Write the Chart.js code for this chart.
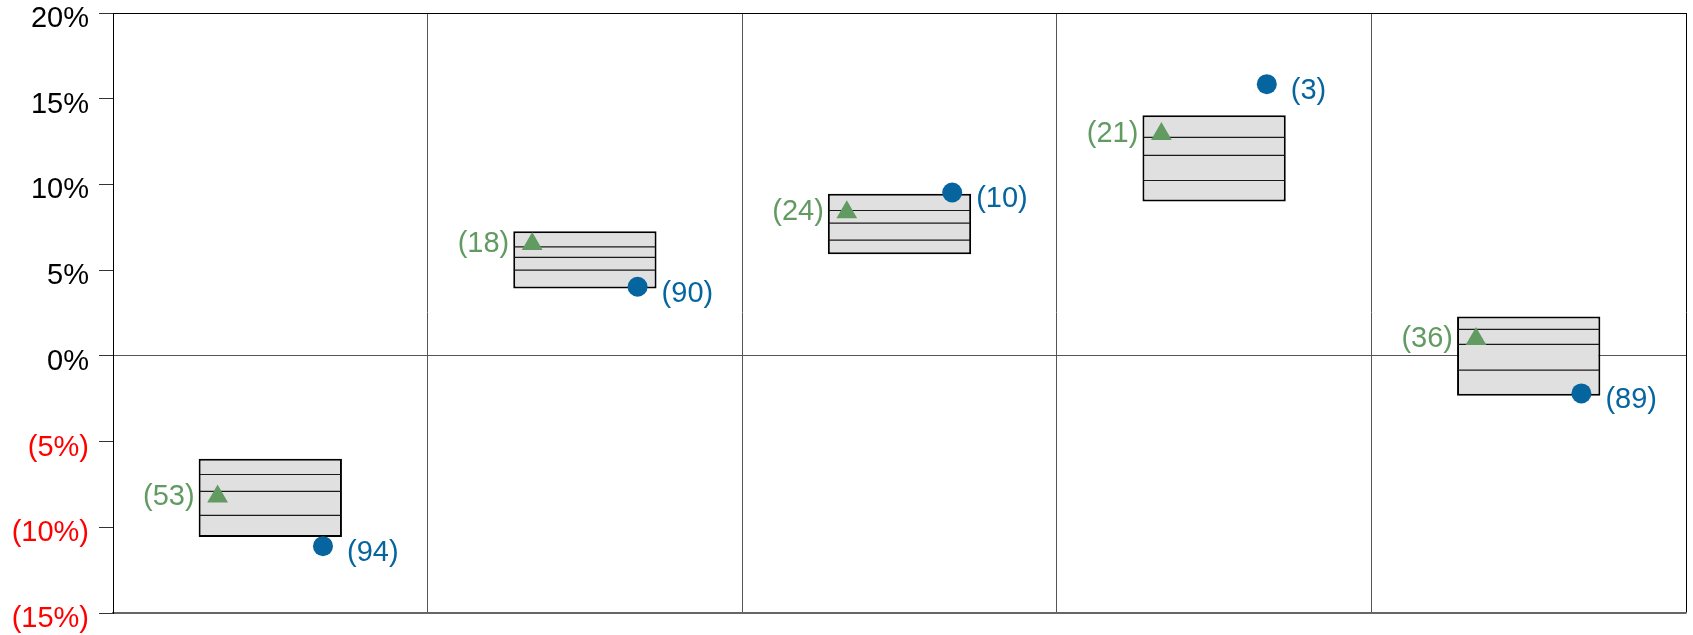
<!DOCTYPE html>
<html><head><meta charset="utf-8">
<script src="https://cdn.jsdelivr.net/npm/chart.js@4.4.1/dist/chart.umd.min.js"></script>
<style>html,body{margin:0;padding:0;background:#fff}#wrap{width:1693px;height:635px}</style>
</head><body><div id="wrap"><canvas id="c" width="1693" height="635"></canvas></div>
<script>
// ---- data (percent) ----
const categories = ['1', '2', '3', '4', '5'];
const boxMax = [-6.0, 7.27, 9.45, 14.04, 2.30];
const boxP75 = [-6.92, 6.36, 8.48, 12.74, 1.54];
const boxMed = [-7.91, 5.74, 7.74, 11.69, 0.665];
const boxP25 = [-9.31, 5.0, 6.75, 10.23, -0.83];
const boxMin = [-10.56, 3.93, 5.93, 9.01, -2.33];
const triValues = [-8.21, 6.52, 8.37, 12.94, 0.98];
const triLabels = ['(53)', '(18)', '(24)', '(21)', '(36)'];
const dotValues = [-11.1, 4.03, 9.53, 15.85, -2.19];
const dotLabels = ['(94)', '(90)', '(10)', '(3)', '(89)'];
const yTickValues = [-15, -10, -5, 0, 5, 10, 15, 20];

const GREEN = '#629b62';
const BLUE = '#06659f';
const FONT = '"Liberation Sans", Arial, sans-serif';
const POINT_SHIFT = 0.1675;

const innerLines = {
  id: 'innerLines',
  afterDatasetDraw(chart, args) {
    if (args.index !== 0) return;
    const ctx = chart.ctx, ys = chart.scales.y;
    const meta = chart.getDatasetMeta(0);
    ctx.save();
    ctx.strokeStyle = '#1a1a1a';
    ctx.lineWidth = 1.2;
    meta.data.forEach((bar, i) => {
      const w = bar.width / 2;
      [boxP75[i], boxMed[i], boxP25[i]].forEach(v => {
        const y = ys.getPixelForValue(v);
        ctx.beginPath();
        ctx.moveTo(bar.x - w + 1, y);
        ctx.lineTo(bar.x + w - 1, y);
        ctx.stroke();
      });
    });
    ctx.restore();
  }
};

const pointLabels = {
  id: 'pointLabels',
  afterDatasetsDraw(chart) {
    const ctx = chart.ctx;
    ctx.save();
    ctx.font = '29px ' + FONT;
    ctx.textBaseline = 'middle';
    ctx.fillStyle = GREEN;
    ctx.textAlign = 'right';
    chart.getDatasetMeta(1).data.forEach((p, i) => ctx.fillText(triLabels[i], p.x - 23, p.y + 0));
    ctx.fillStyle = BLUE;
    ctx.textAlign = 'left';
    chart.getDatasetMeta(2).data.forEach((p, i) => ctx.fillText(dotLabels[i], p.x + 24, p.y + 7));
    ctx.restore();
  }
};

new Chart(document.getElementById('c'), {
  type: 'bar',
  data: {
    datasets: [
      {
        type: 'bar',
        data: categories.map((c, i) => ({ x: i, y: [boxMin[i], boxMax[i]] })),
        backgroundColor: '#e0e0e0',
        borderColor: '#000',
        borderWidth: 2,
        borderSkipped: false,
        barPercentage: 0.4555,
        categoryPercentage: 1,
        order: 3
      },
      {
        type: 'scatter',
        data: categories.map((c, i) => ({ x: i - POINT_SHIFT, y: triValues[i] })),
        pointStyle: 'triangle',
        pointRadius: 12,
        backgroundColor: GREEN,
        borderWidth: 0,
        order: 1
      },
      {
        type: 'scatter',
        data: categories.map((c, i) => ({ x: i + POINT_SHIFT, y: dotValues[i] })),
        pointStyle: 'circle',
        pointRadius: 10,
        backgroundColor: BLUE,
        borderWidth: 0,
        order: 0
      }
    ]
  },
  options: {
    responsive: false,
    animation: false,
    layout: { autoPadding: false, padding: { left: 0, right: 7, top: 13, bottom: 22 } },
    plugins: { legend: { display: false }, tooltip: { enabled: false } },
    scales: {
      x: {
        type: 'linear',
        offset: false,
        min: -0.5,
        max: 4.5,
        afterBuildTicks: s => { s.ticks = [-0.5, 0.5, 1.5, 2.5, 3.5, 4.5].map(v => ({ value: v })); },
        afterFit: s => { s.paddingLeft = 0; s.paddingRight = 0; },
        ticks: { display: false },
        grid: {
          offset: false,
          drawTicks: false,
          lineWidth: 1,
          color: ctx => (ctx.tick && (ctx.tick.value === 4.5 || ctx.tick.value === -0.5)) ? '#000' : '#555'
        },
        border: { display: true, color: '#666', width: 1.5 }
      },
      y: {
        min: -15,
        max: 20,
        afterBuildTicks: s => { s.ticks = yTickValues.map(v => ({ value: v })); },
        afterFit: s => { s.width = 113; s.paddingTop = 0; s.paddingBottom = 0; },
        ticks: {
          padding: 10,
          labelOffset: 6,
          font: { family: FONT, size: 29, lineHeight: 0.9 },
          color: ctx => ctx.tick.value < 0 ? '#ff0000' : '#000',
          callback: v => v < 0 ? '(' + (-v) + '%)' : v + '%'
        },
        grid: {
          tickLength: 14,
          tickColor: '#333',
          lineWidth: 1,
          color: ctx => {
            const v = ctx.tick ? ctx.tick.value : null;
            if (v === 20) return '#000';
            if (v === 0) return '#555';
            if (v === -15) return '#666';
            return 'rgba(0,0,0,0)';
          }
        },
        border: { display: true, color: '#000', width: 1 }
      }
    }
  },
  plugins: [innerLines, pointLabels]
});
</script>
</body></html>
